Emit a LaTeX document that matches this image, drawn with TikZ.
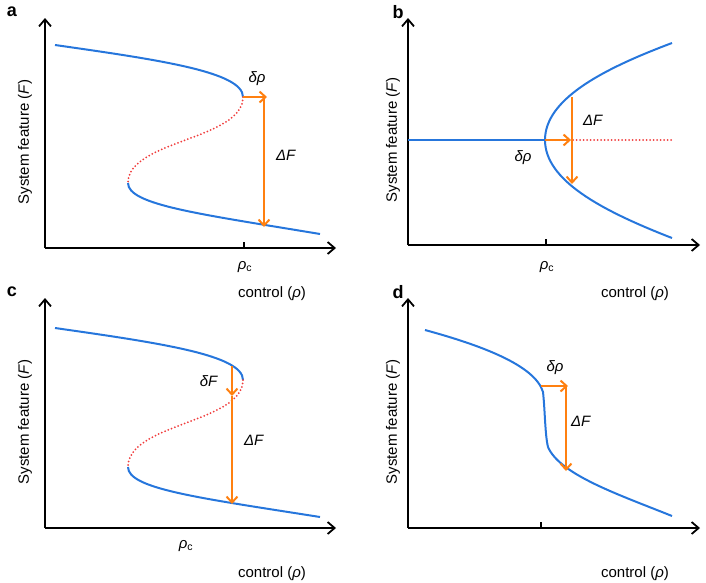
\documentclass[tikz,border=0pt]{standalone}
\usepackage{fontspec}
\setmainfont{Liberation Sans}
\usetikzlibrary{arrows.meta}
\definecolor{cblue}{RGB}{38,118,220}
\definecolor{corange}{RGB}{255,128,16}
\definecolor{cred}{RGB}{240,60,60}
\begin{document}
\begin{tikzpicture}[x=1pt,y=-1pt,
  axis/.style={line width=1.8pt,-{Straight Barb[length=7pt,width=12pt]}},
  blue/.style={cblue,line width=2pt},
  reddot/.style={cred,line width=2pt,dash pattern=on 0pt off 3.5pt,line cap=round},
  oarr/.style={corange,line width=2pt,-{Straight Barb[length=6pt,width=11pt]}},
  lbl/.style={font=\fontsize{15}{17}\selectfont},
  panel/.style={font=\fontsize{18}{20}\selectfont\bfseries},
  ylbl/.style={font=\fontsize{15}{17}\selectfont,rotate=90}]
\useasboundingbox (0,0) rectangle (706,582);
% ---------- a
\node[panel] (pa) at (12,12) {a};
\coordinate (ao) at (45,248); \coordinate (ay) at (45,18); \coordinate (ax) at (336,248);
\draw[axis] (ao) -- (ay); \draw[axis] (ao) -- (ax);
\node[ylbl] (ya) at (25,142) {System feature (\textit{F})};
\node[lbl] (xa) at (272,294) {control (\textit{ρ})};
\coordinate (at1) at (244,248); \coordinate (at2) at (244,242);
\draw[line width=1.5pt] (at1) -- (at2);
\node[lbl] (rca) at (245,267) {\textit{ρ}\textsubscript{c}};
\coordinate (a1) at (55,45); \coordinate (a2) at (243,97); \coordinate (a3) at (128,183); \coordinate (a4) at (320,234);
\draw[blue] (a1) .. controls (160,60) and (243,72) .. (a2);
\draw[reddot] (a2) .. controls (243,140) and (128,140) .. (a3);
\draw[blue] (a3) .. controls (128,205) and (200,214) .. (a4);
\coordinate (ah) at (267,97); \coordinate (av1) at (264,97); \coordinate (av2) at (264,227);
\draw[oarr] (a2) -- (ah);
\draw[oarr] (av1) -- (av2);
\node[lbl] (dra) at (257,79) {\textit{δρ}};
\node[lbl] (dfa) at (286,155) {\textit{ΔF}};
% ---------- b
\node[panel] (pb) at (398,12) {b};
\coordinate (bo) at (408,245); \coordinate (by) at (408,18); \coordinate (bx) at (700,245);
\draw[axis] (bo) -- (by); \draw[axis] (bo) -- (bx);
\node[ylbl] (yb) at (393,140) {System feature (\textit{F})};
\node[lbl] (xb) at (635,294) {control (\textit{ρ})};
\coordinate (bt1) at (546,245); \coordinate (bt2) at (546,239);
\draw[line width=1.5pt] (bt1) -- (bt2);
\node[lbl] (rcb) at (547,267) {\textit{ρ}\textsubscript{c}};
\coordinate (b0) at (408,140); \coordinate (bv) at (545,140); \coordinate (bu) at (672,43); \coordinate (bl) at (672,238); \coordinate (br) at (672,140);
\draw[blue] (b0) -- (bv);
\draw[reddot] (bv) -- (br);
\draw[blue] (bv) .. controls (545,100) and (600,70) .. (bu);
\draw[blue] (bv) .. controls (545,180) and (600,210) .. (bl);
\coordinate (bh) at (571,140); \coordinate (bv1) at (572,97); \coordinate (bv2) at (572,184);
\draw[oarr] (bv) -- (bh);
\draw[oarr] (bv1) -- (bv2);
\node[lbl] (drb) at (523,158) {\textit{δρ}};
\node[lbl] (dfb) at (593,120) {\textit{ΔF}};
% ---------- c
\node[panel] (pc) at (12,292) {c};
\coordinate (co) at (45,528); \coordinate (cy) at (45,298); \coordinate (cx) at (336,528);
\draw[axis] (co) -- (cy); \draw[axis] (co) -- (cx);
\node[ylbl] (yc) at (25,422) {System feature (\textit{F})};
\node[lbl] (xc) at (272,574) {control (\textit{ρ})};
\node[lbl] (rcc) at (186,546) {\textit{ρ}\textsubscript{c}};
\coordinate (c1) at (55,328); \coordinate (c2) at (243,380); \coordinate (c3) at (128,467); \coordinate (c4) at (320,517);
\draw[blue] (c1) .. controls (160,343) and (243,355) .. (c2);
\draw[reddot] (c2) .. controls (243,423) and (128,423) .. (c3);
\draw[blue] (c3) .. controls (128,489) and (200,498) .. (c4);
\coordinate (cv1) at (232,366); \coordinate (cv2) at (232,396); \coordinate (cv3) at (232,504);
\draw[oarr] (cv1) -- (cv2);
\draw[oarr] (cv2) -- (cv3);
\node[lbl] (dfc1) at (209,381) {\textit{δF}};
\node[lbl] (dfc2) at (254,440) {\textit{ΔF}};
% ---------- d
\node[panel] (pd) at (398,292) {d};
\coordinate (do) at (408,528); \coordinate (dy) at (408,298); \coordinate (dx) at (700,528);
\draw[axis] (do) -- (dy); \draw[axis] (do) -- (dx);
\node[ylbl] (yd) at (393,422) {System feature (\textit{F})};
\node[lbl] (xd) at (635,574) {control (\textit{ρ})};
\coordinate (dt1) at (541,528); \coordinate (dt2) at (541,522);
\draw[line width=1.5pt] (dt1) -- (dt2);
\coordinate (d1) at (425,330); \coordinate (d2) at (543,392); \coordinate (d3) at (548,447); \coordinate (d4) at (672,516);
\draw[blue] (d1) .. controls (480,345) and (535,365) .. (d2) .. controls (545,410) and (545,435) .. (d3) .. controls (560,475) and (620,495) .. (d4);
\coordinate (dh0) at (541,386); \coordinate (dh) at (568,386); \coordinate (dv1) at (566,386); \coordinate (dv2) at (566,471);
\draw[oarr] (dh0) -- (dh);
\draw[oarr] (dv1) -- (dv2);
\node[lbl] (drd) at (555,368) {\textit{δρ}};
\node[lbl] (dfd) at (581,421) {\textit{ΔF}};
\end{tikzpicture}
\end{document}
